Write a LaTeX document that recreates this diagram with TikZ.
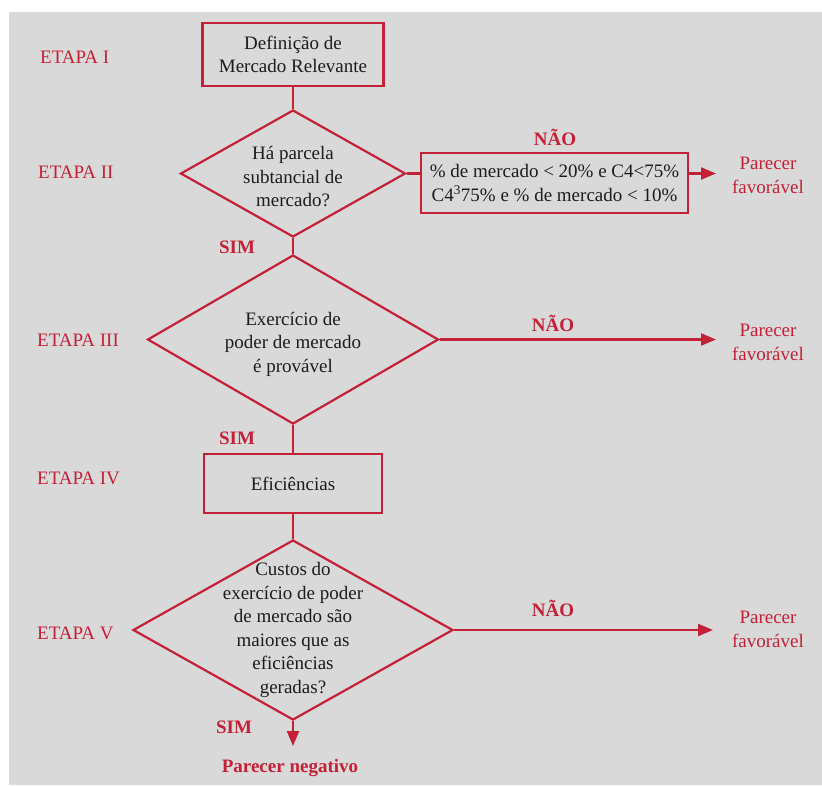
\documentclass[tikz,border=0pt]{standalone}
\usepackage{fontspec}
\setmainfont{Liberation Serif}
\usetikzlibrary{shapes.geometric,arrows.meta,calc}
\definecolor{bgray}{RGB}{217,217,217}
\definecolor{fred}{RGB}{196,32,56}
\definecolor{ftxt}{RGB}{28,28,28}
\newcommand{\bodyfnt}{\fontsize{19}{23.5}\selectfont}
\newcommand{\labfnt}{\fontsize{19}{24}\selectfont}
\begin{document}
\begin{tikzpicture}[x=1pt,y=-1pt,
  flow/.style={draw=fred,line width=2.2pt},
  arr/.style={draw=fred,line width=2.2pt,-{Triangle[length=15pt,width=12pt]}},
  boxn/.style={draw=fred,line width=2.2pt,rectangle,inner sep=0pt,align=center,text=ftxt,font=\bodyfnt},
  dia/.style={draw=fred,line width=2.2pt,diamond,inner sep=0pt},
  dtext/.style={align=center,text=ftxt,font=\bodyfnt,inner sep=0pt},
  lab/.style={text=fred,font=\labfnt,inner sep=0pt},
  blab/.style={text=fred,font=\labfnt\bfseries,inner sep=0pt},
  etapa/.style={text=fred,font=\labfnt,inner sep=0pt,anchor=west},
]
\useasboundingbox (0,0) rectangle (822,785);
\fill[white] (0,0) rectangle (822,785);
\fill[bgray] (9,12) rectangle (822,785);

% stage labels
\node[etapa] (e1) at (40,57) {ETAPA I};
\node[etapa] (e2) at (38,172) {ETAPA II};
\node[etapa] (e3) at (37,340) {ETAPA III};
\node[etapa] (e4) at (37,478) {ETAPA IV};
\node[etapa] (e5) at (37,633) {ETAPA V};

% boxes and decisions
\node[boxn,minimum width=181pt,minimum height=63pt] (b1) at (293,54.5) {Definição de\\Mercado Relevante};
\node[dia,minimum width=225pt,minimum height=127pt] (d1) at (293,173.5) {};
\node[dtext] (d1t) at (293,177) {Há parcela\\subtancial de\\mercado?};
\node[boxn,minimum width=267pt,minimum height=60pt] (b2) at (554.5,183) {\% de mercado < 20\% e C4<75\%\\C4\textsuperscript{3}75\% e \% de mercado < 10\%};
\node[dia,minimum width=291pt,minimum height=169pt] (d2) at (293,339.5) {};
\node[dtext] (d2t) at (293,344) {Exercício de\\poder de mercado\\é provável};
\node[boxn,minimum width=178pt,minimum height=59pt] (b3) at (293,483.5) {Eficiências};
\node[dia,minimum width=320pt,minimum height=180pt] (d3) at (293,630) {};
\node[dtext] (d3t) at (293,630) {Custos do\\exercício de poder\\de mercado são\\maiores que as\\eficiências\\geradas?};

% outcome labels
\node[lab,align=center] (pf1) at (768,175) {Parecer\\favorável};
\node[lab,align=center] (pf2) at (768,342) {Parecer\\favorável};
\node[lab,align=center] (pf3) at (768,629) {Parecer\\favorável};
\node[blab] (pn) at (290,768) {Parecer negativo};

% branch labels
\node[blab] (n1) at (555,137) {NÃO};
\node[blab] (n2) at (553,323) {NÃO};
\node[blab] (n3) at (553,608) {NÃO};
\node[blab] (s1) at (237,247) {SIM};
\node[blab] (s2) at (237,438) {SIM};
\node[blab] (s3) at (234,727) {SIM};

% arrow ends
\coordinate (t1) at (716,173.5);
\coordinate (t2) at (716,339.5);
\coordinate (t3) at (713,630);
\coordinate (t4) at (293,746);

% connectors
\draw[flow] (b1) -- (d1);
\draw[flow] (d1.east) -- (d1.east -| b2.west);
\draw[arr] (d1.east -| b2.east) -- (t1);
\draw[flow] (d1) -- (d2);
\draw[arr] (d2.east) -- (t2);
\draw[flow] (d2) -- (b3);
\draw[flow] (b3) -- (d3);
\draw[arr] (d3.east) -- (t3);
\draw[arr] (d3.south) -- (t4);
\end{tikzpicture}
\end{document}
